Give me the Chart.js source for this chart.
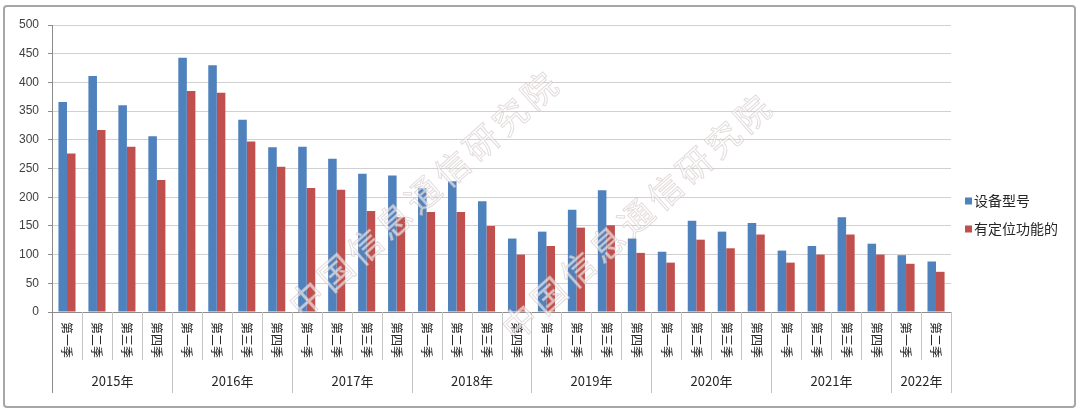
<!DOCTYPE html>
<html>
<head>
<meta charset="utf-8">
<script src="https://cdn.jsdelivr.net/npm/chart.js@4/dist/chart.umd.min.js"></script>
<style>
  body { margin: 0; background: #fff; }
  canvas { display: block; }
</style>
</head>
<body>
<canvas id="quarterChart" width="1080" height="414"></canvas>
<script>
// Chart data
var years = ['2015年', '2016年', '2017年', '2018年', '2019年', '2020年', '2021年', '2022年'];
var quartersPerYear = [4, 4, 4, 4, 4, 4, 4, 2];
var quarterNames = ['第一季', '第二季', '第三季', '第四季'];
var seriesNames = ['设备型号', '有定位功能的'];
var modelCounts = [366, 411, 360, 306, 443, 430, 335, 287, 288, 267, 241, 238, 216, 228, 193, 128,
  140, 178, 212, 128, 105, 159, 140, 155, 107, 115, 165, 119, 99, 88];
var locationCounts = [276, 317, 288, 230, 385, 382, 297, 253, 216, 213, 176, 165, 174, 174, 150, 100,
  115, 147, 151, 103, 86, 126, 111, 135, 86, 100, 135, 100, 84, 70];
var watermark = '中国信息通信研究院';

// one label per bar group
var quarterLabels = [];
years.forEach(function (y, i) {
  for (var q = 0; q < quartersPerYear[i]; q++) quarterLabels.push(quarterNames[q]);
});

var cjkFont = '"Noto Sans CJK SC", "Noto Sans", sans-serif';
var blue = '#4f81bd';
var red = '#c0504d';

// draws border, category/year axis rows, legend and watermark
var decorPlugin = {
  id: 'decor',
  beforeDraw: function (chart) {
    var ctx = chart.ctx;
    ctx.save();
    ctx.strokeStyle = '#a6a6a6';
    ctx.lineWidth = 2;
    ctx.beginPath();
    ctx.roundRect(4, 6, 1071, 401, 3);
    ctx.stroke();
    ctx.restore();
  },
  afterDatasetsDraw: function (chart) {
    var ctx = chart.ctx;
    var x = chart.scales.x;
    var area = chart.chartArea;
    var bottom = area.bottom;

    ctx.save();
    // axis rows
    ctx.strokeStyle = '#c4c4c4';
    ctx.lineWidth = 1;
    var idx = 0;
    years.forEach(function (y, i) {
      var n = quartersPerYear[i];
      var left = Math.round(x.getPixelForValue(idx - 0.5)) + 0.5;
      var right = Math.round(x.getPixelForValue(idx + n - 0.5)) + 0.5;
      ctx.beginPath();
      ctx.moveTo(left, bottom);
      ctx.lineTo(left, 393);
      ctx.moveTo(right, bottom);
      ctx.lineTo(right, 393);
      ctx.stroke();
      for (var k = 1; k < n; k++) {
        var bx = Math.round(x.getPixelForValue(idx + k - 0.5)) + 0.5;
        ctx.beginPath();
        ctx.moveTo(bx, bottom);
        ctx.lineTo(bx, 360);
        ctx.stroke();
      }
      ctx.fillStyle = '#262626';
      ctx.font = '13px ' + cjkFont;
      ctx.textAlign = 'center';
      ctx.textBaseline = 'middle';
      ctx.fillText(y, (left + right) / 2, 381);
      idx += n;
    });
    // left axis line runs down through the label rows
    ctx.strokeStyle = '#8c8c8c';
    ctx.beginPath();
    ctx.moveTo(area.left + 0.5, bottom);
    ctx.lineTo(area.left + 0.5, 393);
    ctx.stroke();

    // quarter labels, rotated clockwise
    ctx.fillStyle = '#262626';
    ctx.font = '12px ' + cjkFont;
    ctx.textAlign = 'left';
    ctx.textBaseline = 'middle';
    quarterLabels.forEach(function (q, i) {
      ctx.save();
      ctx.translate(x.getPixelForValue(i), 322);
      ctx.rotate(Math.PI / 2);
      ctx.fillText(q, 0, 0);
      ctx.restore();
    });

    // legend
    ctx.font = '14px ' + cjkFont;
    chart.data.datasets.forEach(function (ds, i) {
      var ly = 201 + i * 28;
      ctx.fillStyle = ds.backgroundColor;
      ctx.fillRect(965, ly - 3.5, 7, 7);
      ctx.fillStyle = '#262626';
      ctx.fillText(ds.label, 974, ly);
    });

    // watermark
    ctx.font = '34px ' + cjkFont;
    ctx.textAlign = 'left';
    ctx.lineWidth = 1;
    ctx.strokeStyle = 'rgba(200, 185, 185, 0.5)';
    ctx.fillStyle = 'rgba(255, 255, 255, 0.6)';
    [[294, 310], [507, 333]].forEach(function (p) {
      ctx.save();
      ctx.translate(p[0], p[1]);
      ctx.rotate(-0.73);
      for (var c = 0; c < watermark.length; c++) {
        ctx.fillText(watermark[c], c * 39, 0);
        ctx.strokeText(watermark[c], c * 39, 0);
      }
      ctx.restore();
    });
    ctx.restore();
  }
};

var chartConfig = {
  type: 'bar',
  data: {
    labels: quarterLabels,
    datasets: [{
      label: seriesNames[0],
      data: modelCounts,
      backgroundColor: blue,
      categoryPercentage: 0.57,
      barPercentage: 1
    }, {
      label: seriesNames[1],
      data: locationCounts,
      backgroundColor: red,
      categoryPercentage: 0.57,
      barPercentage: 1
    }]
  },
  options: {
    responsive: false,
    animation: false,
    layout: {
      padding: { left: 0, right: 129, top: 25, bottom: 2 }
    },
    plugins: {
      legend: { display: false },
      tooltip: { enabled: false }
    },
    scales: {
      x: {
        ticks: { display: false },
        grid: { display: false },
        border: { color: '#8c8c8c' },
        afterFit: function (scale) { scale.height = 100; }
      },
      y: {
        min: 0,
        max: 500,
        ticks: {
          stepSize: 50,
          padding: 9,
          color: '#404040',
          font: { family: '"Liberation Sans", Arial, sans-serif', size: 12 }
        },
        grid: { color: '#d0d0d0', tickLength: 4, tickColor: '#8c8c8c' },
        border: { color: '#8c8c8c' },
        afterFit: function (scale) { scale.width = 52; }
      }
    }
  },
  plugins: [decorPlugin]
};

var ctx = document.getElementById('quarterChart').getContext('2d');
var barChart = new Chart(ctx, chartConfig);
</script>
</body>
</html>
